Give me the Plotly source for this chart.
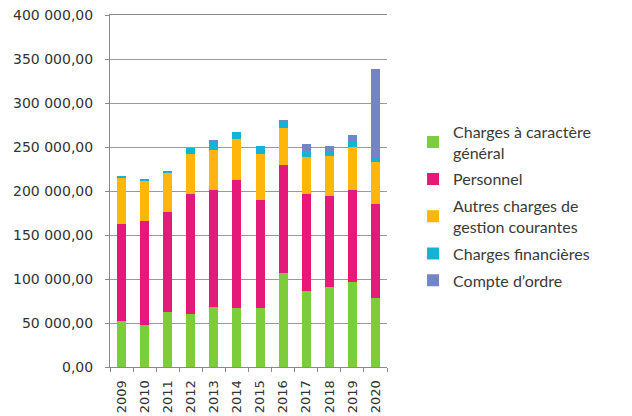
import plotly.graph_objects as go

years = ["2009", "2010", "2011", "2012", "2013", "2014", "2015", "2016", "2017", "2018", "2019", "2020"]
charges_generales = [52200, 47600, 62800, 59800, 68500, 66900, 66900, 107000, 86600, 91200, 96400, 78700]
personnel = [110800, 118400, 113400, 137200, 132200, 145900, 122900, 122500, 110400, 102700, 104300, 106100]
autres_charges = [52900, 46000, 44900, 45300, 46100, 46200, 52500, 41900, 41100, 45400, 49200, 47600]
charges_financieres = [1400, 1500, 1100, 6400, 9500, 8600, 9100, 6600, 5700, 5700, 6300, 6100]
compte_ordre = [0, 0, 0, 0, 1500, 0, 0, 2500, 9100, 6400, 7300, 99800]
y_ticks = [0, 50000, 100000, 150000, 200000, 250000, 300000, 350000, 400000]

series = [
    ("Charges à caractère<br>général", charges_generales, "#7DCC3A"),
    ("Personnel", personnel, "#E4197A"),
    ("Autres charges de<br>gestion courantes", autres_charges, "#FFB60A"),
    ("Charges financières", charges_financieres, "#16B2D6"),
    ("Compte d’ordre", compte_ordre, "#7385C5"),
]

fig = go.Figure()
for i, (name, vals, color) in enumerate(series):
    fig.add_trace(go.Bar(x=years, y=vals, name=name, legendgroup=f"g{i}",
                         marker=dict(color=color, line=dict(width=0))))

# page has an 8px body margin, so the figure is sized/offset to compensate
fig.update_layout(
    barmode="stack",
    bargap=0.61,
    width=624, height=408,
    margin=dict(l=102, r=245, t=7, b=49, autoexpand=False),
    paper_bgcolor="white",
    plot_bgcolor="white",
    separators=", ",
    font=dict(family="DejaVu Sans", size=13, color="#333333"),
    legend=dict(
        x=1.094, y=0.717, xanchor="left", yanchor="top",
        font=dict(family="Lato", size=16, color="#3a3a3a"),
        traceorder="grouped",
        bgcolor="rgba(0,0,0,0)",
        tracegroupgap=3,
    ),
    showlegend=True,
)
fig.update_yaxes(
    range=[0, 400000],
    tickvals=y_ticks,
    tickformat=",.2f",
    automargin=False,
    ticklabeloverflow="allow",
    showgrid=True, gridcolor="#9a9a9a", gridwidth=1,
    showline=True, linecolor="#8a8a8a", linewidth=1,
    ticks="outside", ticklen=4, tickcolor="#8a8a8a",
    ticklabelstandoff=9,
    zeroline=False,
    tickfont=dict(family="DejaVu Sans", size=14, color="#333333"),
)
fig.update_xaxes(
    type="category",
    automargin=False,
    showline=True, linecolor="#8a8a8a", linewidth=1, mirror=True,
    ticks="outside", ticklen=4, tickcolor="#8a8a8a",
    tickson="boundaries",
    tickangle=-90,
    ticklabelstandoff=7,
    tickfont=dict(family="DejaVu Sans", size=13, color="#333333"),
)

fig.write_html("out.html")
